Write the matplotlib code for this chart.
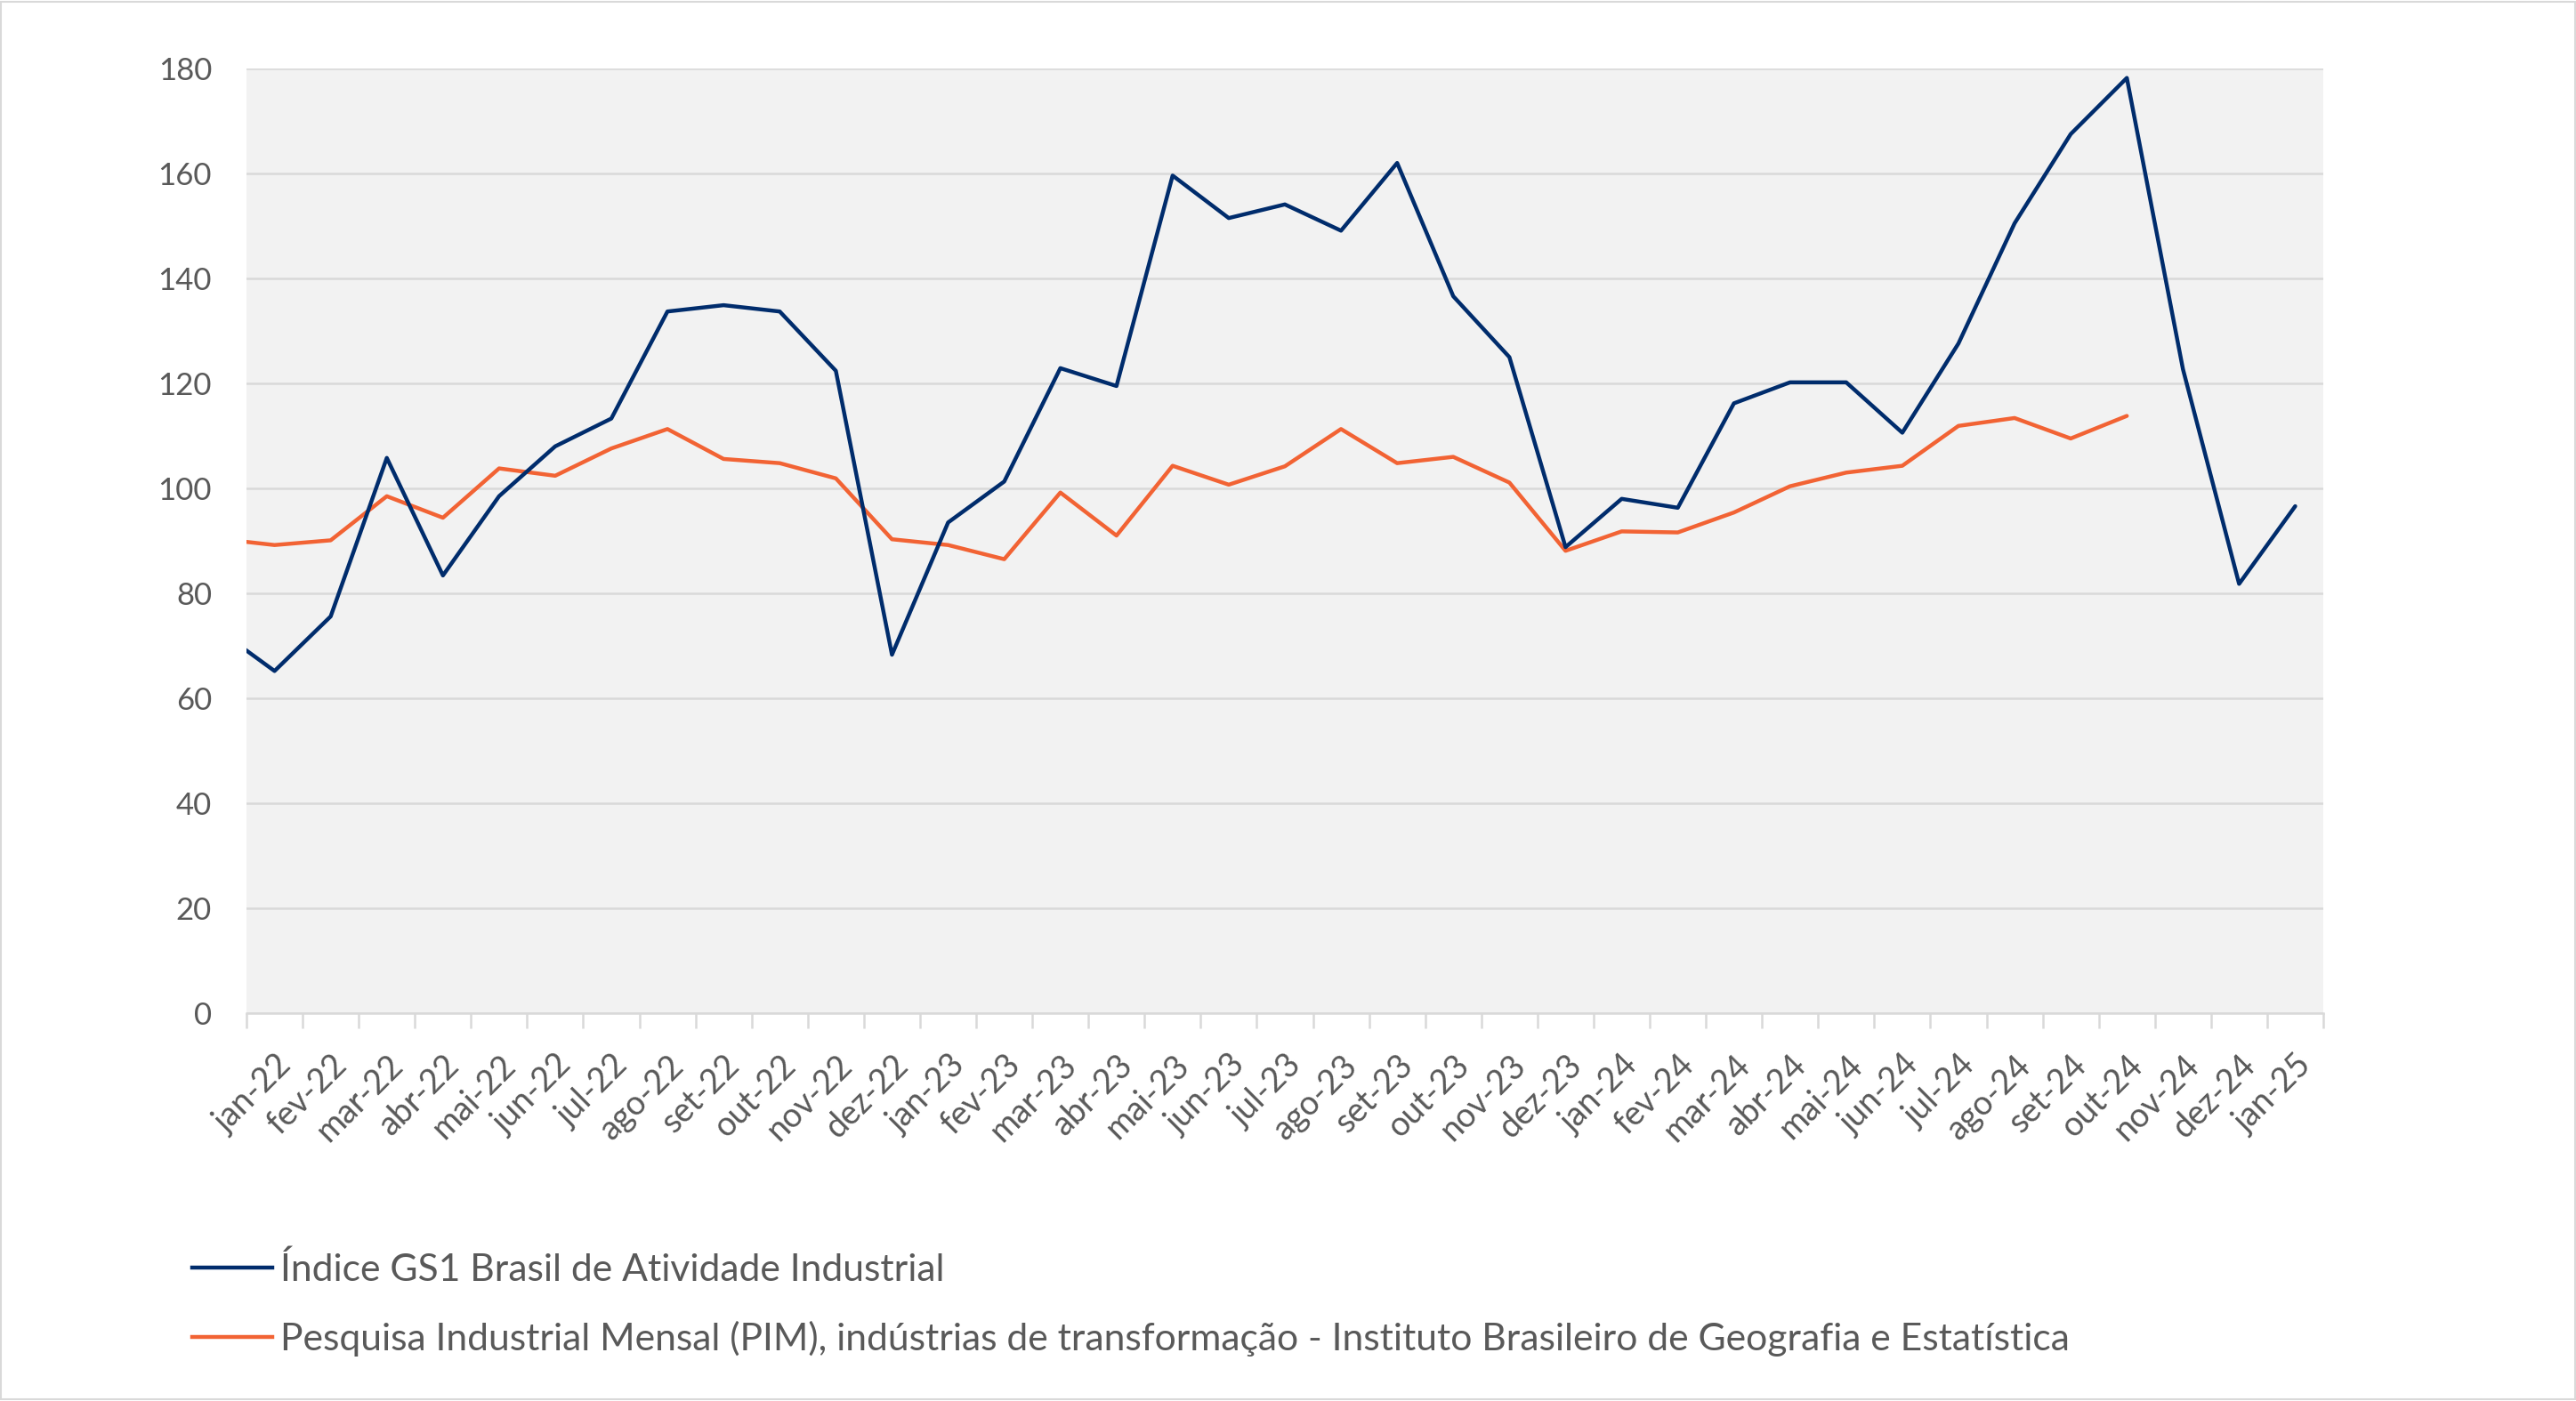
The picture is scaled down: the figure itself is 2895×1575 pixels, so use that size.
import numpy as np
import matplotlib
matplotlib.use("Agg")
import matplotlib.pyplot as plt
from matplotlib.lines import Line2D
from matplotlib.patches import Rectangle

# ---------------- data ----------------
months = ["jan-22", "fev-22", "mar-22", "abr-22", "mai-22", "jun-22", "jul-22", "ago-22",
          "set-22", "out-22", "nov-22", "dez-22", "jan-23", "fev-23", "mar-23", "abr-23",
          "mai-23", "jun-23", "jul-23", "ago-23", "set-23", "out-23", "nov-23", "dez-23",
          "jan-24", "fev-24", "mar-24", "abr-24", "mai-24", "jun-24", "jul-24", "ago-24",
          "set-24", "out-24", "nov-24", "dez-24", "jan-25"]

gs1 = [65.2, 75.6, 105.8, 83.4, 98.5, 108.0, 113.3, 133.7, 134.9, 133.7, 122.4, 68.3,
       93.5, 101.3, 122.9, 119.5, 159.6, 151.5, 154.1, 149.1, 162.0, 136.6, 125.0, 88.8,
       98.0, 96.3, 116.2, 120.2, 120.2, 110.6, 127.6, 150.5, 167.5, 178.2, 122.7, 81.8, 96.6]

pim = [89.2, 90.1, 98.5, 94.4, 103.8, 102.4, 107.6, 111.3, 105.6, 104.8, 101.9, 90.3,
       89.2, 86.5, 99.2, 91.0, 104.3, 100.7, 104.2, 111.3, 104.8, 106.0, 101.1, 88.1,
       91.8, 91.6, 95.4, 100.4, 103.0, 104.3, 111.9, 113.4, 109.5, 113.8,
       np.nan, np.nan, np.nan]

# preceding month (dez-21): only the segment into jan-22 shows at the left edge
gs1_prev = 73.0
pim_prev = 90.4

series_labels = ["Índice GS1 Brasil de Atividade Industrial",
                 "Pesquisa Industrial Mensal (PIM), indústrias de transformação - Instituto Brasileiro de Geografia e Estatística"]
yticks = [0, 20, 40, 60, 80, 100, 120, 140, 160, 180]

# ---------------- style ----------------
BLUE = "#002C6C"
ORANGE = "#F26334"
GRID = "#D9D9D9"
TEXT = "#595959"

plt.rcParams['font.family'] = ['Lato', 'DejaVu Sans']

W, H = 2895, 1575
fig = plt.figure(figsize=(W / 100, H / 100), dpi=100)
fig.patch.set_facecolor("white")

L, R, T, B = 277, 2611, 77, 1139
ax = fig.add_axes([L / W, 1 - B / H, (R - L) / W, (B - T) / H])
ax.set_facecolor("#F2F2F2")

x = np.arange(len(months))
xs = np.concatenate([[-1], x])
ax.plot(xs, [gs1_prev] + gs1, color=BLUE, lw=3.2, solid_capstyle='round', zorder=4)
ax.plot(xs, [pim_prev] + pim, color=ORANGE, lw=3.2, solid_capstyle='round', zorder=3)

ax.set_xlim(-0.5, len(months) - 0.5)
ax.set_ylim(0, 180)

ax.set_yticks(yticks)
ax.yaxis.grid(True, color=GRID, lw=1.8)
ax.set_axisbelow(True)
for s in ["left", "right", "top"]:
    ax.spines[s].set_visible(False)
ax.spines["bottom"].set_color(GRID)
ax.spines["bottom"].set_linewidth(1.8)

ax.tick_params(axis="y", length=0, pad=28, labelsize=25, labelcolor=TEXT)
ax.set_xticks(x)
ax.set_xticklabels(months, rotation=45, ha="right", rotation_mode="anchor")
ax.tick_params(axis="x", which="major", length=0, pad=29, labelsize=27, labelcolor=TEXT)
ax.set_xticks(np.arange(-0.5, len(months), 1.0), minor=True)
ax.tick_params(axis="x", which="minor", length=12, width=1.8, color=GRID)

handles = [Line2D([], [], color=BLUE, lw=3.2), Line2D([], [], color=ORANGE, lw=3.2)]
leg = fig.legend(handles, series_labels, loc="center left",
                 bbox_to_anchor=(216 / W, 1 - 1466 / H), frameon=False,
                 fontsize=30.7, handlelength=2.1, handletextpad=0.22,
                 labelspacing=0.88, borderpad=0, borderaxespad=0)
for t in leg.get_texts():
    t.set_color(TEXT)

fig.patches.append(Rectangle((0.0005, 0.001), 0.999, 0.998, transform=fig.transFigure,
                             fill=False, edgecolor=GRID, lw=1.5))

fig.savefig("out.png", dpi=100, facecolor="white")
